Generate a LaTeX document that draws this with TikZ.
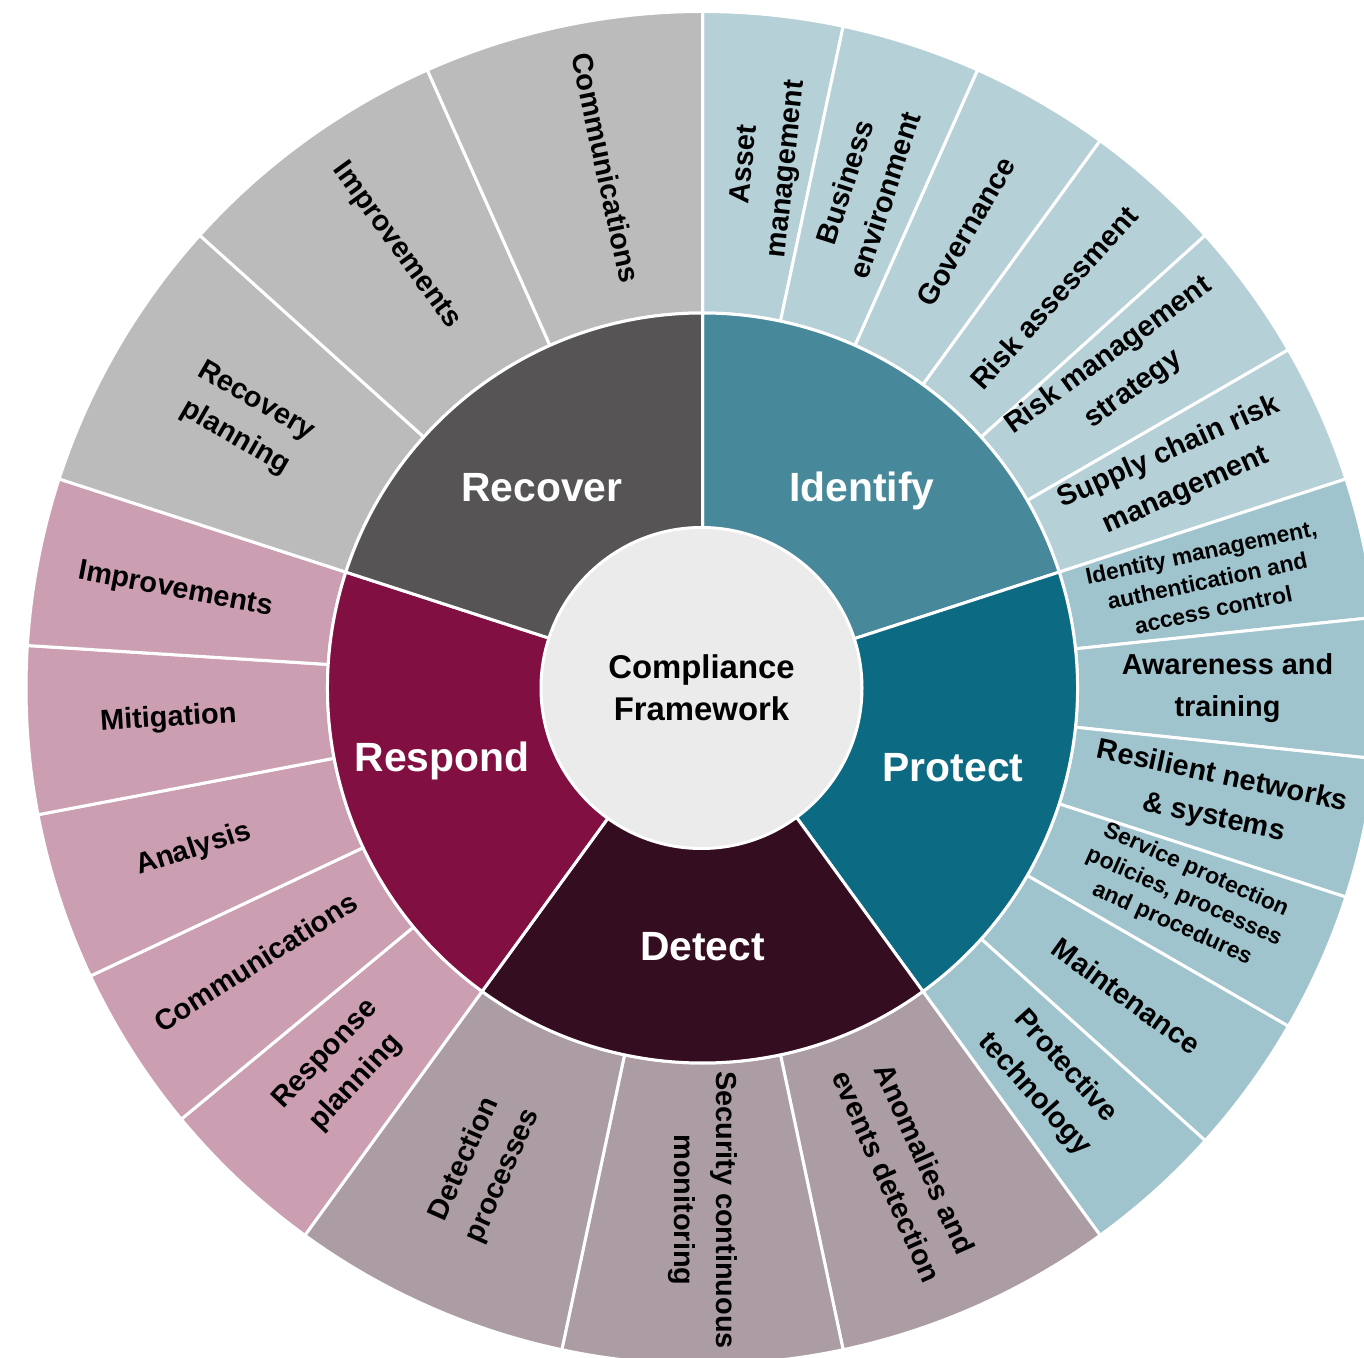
\documentclass[tikz,border=0pt]{standalone}
\usepackage{fontspec}
\setmainfont{Liberation Sans}
\definecolor{idO}{HTML}{B6D0D7}
\definecolor{prO}{HTML}{A0C4CE}
\definecolor{deO}{HTML}{AC9DA5}
\definecolor{reO}{HTML}{CC9EB2}
\definecolor{rcO}{HTML}{BBBBBB}
\definecolor{idM}{HTML}{47889A}
\definecolor{prM}{HTML}{0D6A83}
\definecolor{deM}{HTML}{350D20}
\definecolor{reM}{HTML}{820F42}
\definecolor{rcM}{HTML}{565454}
\definecolor{ctr}{HTML}{EBEBEB}
\tikzset{
  segline/.style={draw=white, line width=3bp},
  lab/.style={font=\fontsize{29}{42}\selectfont\bfseries, align=center, text=black, inner sep=0pt},
  labs/.style={font=\fontsize{23}{29.5}\selectfont\bfseries, align=center, text=black, inner sep=0pt},
  fn/.style={font=\fontsize{41}{48}\selectfont\bfseries, text=white, inner sep=0pt, anchor=base},
}
\newcommand\ringseg[5]{\fill[#5, segline] (#1:#3) arc[start angle=#1, end angle=#2, radius=#3] -- (#2:#4) arc[start angle=#2, end angle=#1, radius=#4] -- cycle;}
\begin{document}
\begin{tikzpicture}[x=1bp,y=1bp]
\useasboundingbox (-702.5,-670) rectangle (661.5,688);
\clip (-702.5,-670) rectangle (661.5,688);
\fill[white] (-702.5,-670) rectangle (661.5,688);
% outer ring
\foreach \s/\e in {90/78,78/66,66/54,54/42,42/30,30/18}{\ringseg{\s}{\e}{375}{676.5}{idO}}
\foreach \s/\e in {18/6,6/-6,-6/-18,-18/-30,-30/-42,-42/-54}{\ringseg{\s}{\e}{375}{676.5}{prO}}
\foreach \s/\e in {-54/-78,-78/-102,-102/-126}{\ringseg{\s}{\e}{375}{676.5}{deO}}
\foreach \s/\e in {-126/-140.4,-140.4/-154.8,-154.8/-169.2,-169.2/-183.6,-183.6/-198}{\ringseg{\s}{\e}{375}{676.5}{reO}}
\foreach \s/\e in {162/138,138/114,114/90}{\ringseg{\s}{\e}{375}{676.5}{rcO}}
% middle ring
\ringseg{90}{18}{100}{375}{idM}
\ringseg{18}{-54}{100}{375}{prM}
\ringseg{-54}{-126}{100}{375}{deM}
\ringseg{-126}{-198}{100}{375}{reM}
\ringseg{162}{90}{100}{375}{rcM}
% centre
\node[circle, fill=ctr, draw=white, line width=3bp, minimum size=321bp, inner sep=0pt,
      font=\fontsize{33}{42}\selectfont\bfseries, align=center] (c) at (-1,0) {Compliance\\Framework};
% function labels
\node[fn] (fId) at (159.5,186) {Identify};
\node[fn] (fRc) at (-160.5,186) {Recover};
\node[fn] (fPr) at (250.5,-94) {Protect};
\node[fn] (fDe) at (0,-272) {Detect};
\node[fn] (fRe) at (-260.5,-84) {Respond};
% Identify categories
\node[lab, rotate=84] (l1) at (83:525) {Asset\\management};
\node[lab, rotate=72] (l2) at (72:525) {Business\\environment};
\node[lab, rotate=60] (l3) at (60:527) {Governance};
\node[lab, rotate=48] (l4) at (48:525) {Risk assessment};
\node[lab, rotate=36] (l5) at (37:524) {Risk management\\strategy};
\node[lab, rotate=24] (l6) at (24.5:522) {Supply chain risk\\management};
% Protect categories
\node[labs, rotate=12] (l7) at (12:516) {Identity management,\\authentication and\\access control};
\node[lab, rotate=0] (l8) at (0:525) {Awareness and\\training};
\node[lab, rotate=-12] (l9) at (-12:527) {Resilient networks\\\& systems};
\node[labs, rotate=-24] (l10) at (-23.5:525) {Service protection\\policies, processes\\and procedures};
\node[lab, rotate=-36] (l11) at (-36:524) {Maintenance};
\node[lab, rotate=-48] (l12) at (-48.5:524) {Protective\\technology};
% Detect categories
\node[lab, rotate=-66] (l13) at (-67:521) {Anomalies and\\events detection};
\node[lab, rotate=-90] (l14) at (-90:522) {Security continuous\\monitoring};
\node[lab, rotate=66] (l15) at (-114.5:527) {Detection\\processes};
% Respond categories
\node[lab, rotate=46.8] (l16) at (226.5:525) {Response\\planning};
\node[lab, rotate=32.4] (l17) at (211.5:524) {Communications};
\node[lab, rotate=18] (l18) at (197.6:534) {Analysis};
\node[lab, rotate=3.6] (l19) at (183.3:535) {Mitigation};
\node[lab, rotate=-10.8] (l20) at (169.5:536) {Improvements};
% Recover categories
\node[lab, rotate=-30] (l21) at (149.6:530) {Recovery\\planning};
\node[lab, rotate=-54] (l22) at (124.7:538) {Improvements};
\node[lab, rotate=-78] (l23) at (100.5:529) {Communications};
\end{tikzpicture}
\end{document}
